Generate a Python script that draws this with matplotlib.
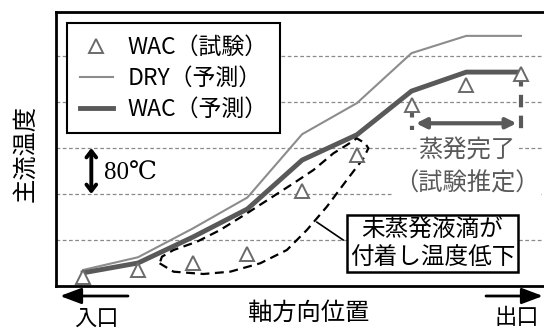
import matplotlib
matplotlib.use('Agg')
import matplotlib.pyplot as plt
from matplotlib.lines import Line2D
from matplotlib.patches import FancyArrowPatch
import numpy as np

plt.rcParams['font.family'] = ['Noto Sans CJK JP', 'DejaVu Sans']

# 軸方向の測定位置 (入口 -> 出口)
pos = np.arange(9)
# 主流温度 [℃] (入口付近を基準とした相対値)
wac_test = [16, 28, 40, 56, 165, 228, 315, 350, 369]
dry_pred = [28, 50, 100, 154, 264, 318, 405, 435, 435]
wac_pred = [23, 40, 85, 134, 219, 263, 339, 372, 372]
grid_levels = [80, 160, 240, 320, 400]

# 未蒸発液滴の領域を囲む破線
loop_x = [1.394, 1.649, 2.197, 2.685, 3.233, 3.721, 4.086, 4.451, 4.816, 5.120, 5.211,
          5.151, 4.999, 4.816, 4.572, 4.206, 3.841, 3.416, 2.990, 2.502, 2.077, 1.649, 1.437]
loop_y = [39.5, 24.9, 20.9, 24.9, 39.5, 62.6, 97.4, 137.9, 184.3, 222.1, 239.5,
          248.2, 256.8, 245.2, 230.8, 201.7, 178.6, 152.5, 126.4, 97.4, 77.0, 62.6, 51.0]

dark = '#595959'
mid = '#8c8c8c'

fig = plt.figure(figsize=(5.44, 3.29), dpi=100)
ax = fig.add_axes([0.1029, 0.1307, 0.897, 0.8328])
ax.set_xlim(-0.5, 8.42)
ax.set_ylim(0, 476.5)

for g in grid_levels:
    ax.axhline(g, color='#8a8a8a', lw=0.9, ls=(0, (3, 2)), zorder=1)

ax.plot(pos, dry_pred, color=mid, lw=1.5, zorder=3)
ax.plot(pos, wac_pred, color=dark, lw=3.5, zorder=3)
ax.plot(pos, wac_test, ls='none', marker='^', ms=10.5, mfc='white', mec='#6a6a6a',
        mew=1.4, zorder=5)

lx = loop_x + loop_x[:1]
ly = loop_y + loop_y[:1]
ax.plot(lx, ly, color='black', lw=1.6, ls=(0, (4, 2.5)), zorder=4)

# 蒸発完了の区間
ax.plot([pos[6], pos[6]], [wac_test[6], 272], color=dark, lw=3, ls=(0, (3, 2)), zorder=4)
ax.plot([pos[8], pos[8]], [wac_test[8], 272], color=dark, lw=3, ls=(0, (3, 2)), zorder=4)
ax.annotate('', xy=(7.92, 283), xytext=(6.08, 283),
            arrowprops=dict(arrowstyle='<|-|>,head_length=0.6,head_width=0.3',
                            color=dark, lw=3, shrinkA=0, shrinkB=0), zorder=4)
ax.text(7.01, 236, '蒸発完了', color=dark, fontsize=17.5, ha='center', va='center',
        bbox=dict(fc='white', ec='none', pad=1), zorder=4)
ax.text(7.01, 179, '（試験推定）', color=dark, fontsize=17.5, ha='center', va='center',
        bbox=dict(fc='white', ec='none', pad=1), zorder=4)

# 80℃ スケール
ax.annotate('', xy=(0.146, 240), xytext=(0.146, 160),
            arrowprops=dict(arrowstyle='<->,head_length=0.45,head_width=0.35',
                            color='black', lw=2.8, shrinkA=0, shrinkB=0), zorder=4)
ax.text(0.38, 195, '80℃', fontsize=18, ha='left', va='center',
        family=['Liberation Serif', 'DejaVu Serif', 'Noto Sans CJK JP'], zorder=4)

# 吹き出し
ax.plot([4.27, 4.75], [111, 80], color='black', lw=1.2, zorder=4)
ax.text(6.38, 74, '未蒸発液滴が\n付着し温度低下', fontsize=17, ha='center', va='center',
        linespacing=1.3, zorder=6,
        bbox=dict(boxstyle='square,pad=0.12', fc='white', ec='black', lw=1.8))

handles = [Line2D([], [], ls='none', marker='^', ms=10.5, mfc='white', mec='#6a6a6a', mew=1.4),
           Line2D([], [], color=mid, lw=1.5),
           Line2D([], [], color=dark, lw=3.5)]
labels = ['WAC（試験）', 'DRY（予測）', 'WAC（予測）']
leg = ax.legend(handles, labels, loc='upper left', bbox_to_anchor=(0.0225, 0.96),
                borderaxespad=0, fancybox=False, framealpha=1, edgecolor='black',
                fontsize=16.5, handlelength=1.45, handletextpad=0.65, labelspacing=0.35,
                borderpad=0.55)
leg.get_frame().set_linewidth(1.5)
leg.set_zorder(7)

ax.set_xticks([])
ax.set_yticks([])
ax.spines['right'].set_visible(False)
for s in ['left', 'bottom', 'top']:
    ax.spines[s].set_linewidth(2)

# 軸ラベルと入口・出口の矢印
fig.text(25 / 544, 1 - 154 / 329, '主流温度', rotation=90, fontsize=17.5,
         ha='center', va='center')
fig.text(309 / 544, 1 - 313 / 329, '軸方向位置', fontsize=17.5, ha='center', va='center')
fig.text(96 / 544, 1 - 318 / 329, '入口', fontsize=16, ha='center', va='center')
fig.text(517 / 544, 1 - 318 / 329, '出口', fontsize=16, ha='center', va='center')
for x0, x1 in [(128, 60), (486, 543)]:
    fig.patches.append(FancyArrowPatch(
        (x0 / 544, 1 - 296 / 329), (x1 / 544, 1 - 296 / 329), transform=fig.transFigure,
        arrowstyle='-|>,head_length=0.8,head_width=0.3', mutation_scale=16,
        color='black', lw=2, shrinkA=0, shrinkB=0))

fig.savefig('out.png', dpi=100)
